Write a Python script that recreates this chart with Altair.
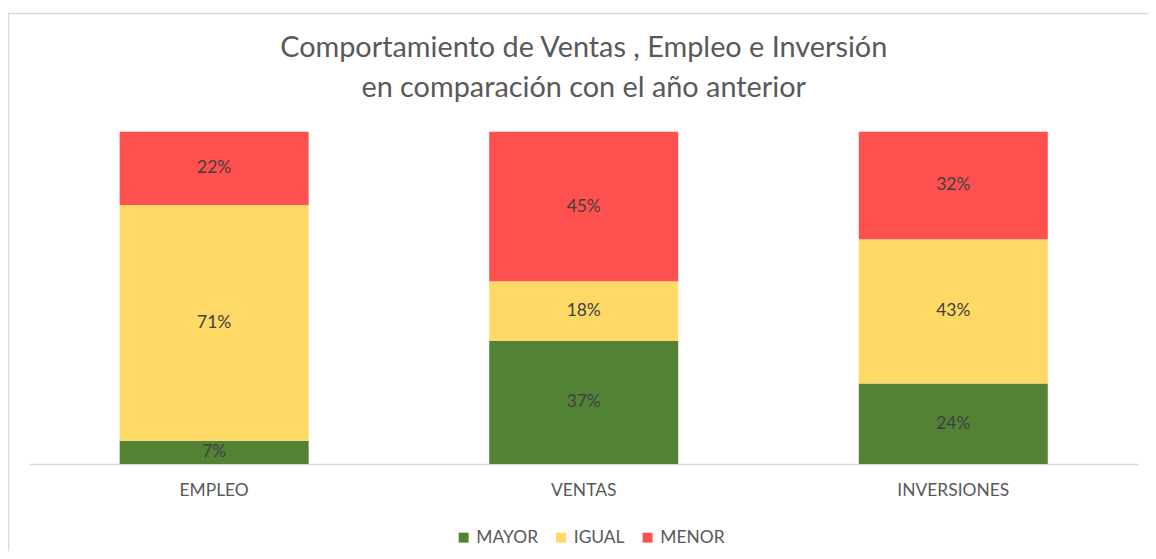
import altair as alt
import pandas as pd

categories = ["EMPLEO", "VENTAS", "INVERSIONES"]
series = ["MAYOR", "IGUAL", "MENOR"]
mayor = [7, 37, 24]
igual = [71, 18, 43]
menor = [22, 45, 32]
colors = ["#548235", "#FFD966", "#FF5050"]
title_lines = ["Comportamiento de Ventas , Empleo e Inversión", "en comparación con el año anterior"]

rows = []
for i, c in enumerate(categories):
    for j, (s, vals) in enumerate(zip(series, [mayor, igual, menor])):
        rows.append({"cat": c, "serie": s, "val": vals[i], "ord": j})
df = pd.DataFrame(rows)

FONT = "Lato"
W, H = 1115, 334

base = alt.Chart(df).transform_stack(
    stack="val", groupby=["cat"], sort=[alt.SortField("ord", order="ascending")],
    as_=["y0", "y1"], offset="normalize"
).transform_calculate(mid="(datum.y0 + datum.y1) / 2", lab="datum.val + '%'")

xenc = alt.X("cat:N", sort=categories, title=None,
             scale=alt.Scale(paddingInner=0.4886, paddingOuter=0.2443),
             axis=alt.Axis(labelAngle=0, ticks=False, domainColor="#d9d9d9", domainWidth=1.5,
                           labelFont=FONT, labelFontSize=17.5, labelColor="#595959", labelPadding=18))
yscale = alt.Scale(domain=[0, 1])

bars = base.mark_bar().encode(
    x=xenc,
    y=alt.Y("y0:Q", scale=yscale, axis=None),
    y2="y1:Q",
    color=alt.Color("serie:N", sort=series,
                    scale=alt.Scale(domain=series, range=colors),
                    legend=alt.Legend(title=None, orient="none", direction="horizontal",
                                      legendX=428, legendY=399, symbolType="square",
                                      symbolSize=100, symbolStrokeWidth=0, symbolOpacity=1,
                                      labelFont=FONT, labelFontSize=17.5, labelColor="#595959",
                                      columnPadding=14, labelOffset=4)),
)

texts = base.mark_text(font=FONT, fontSize=17.5, color="#404040").encode(
    x=alt.X("cat:N", sort=categories),
    y=alt.Y("mid:Q", scale=yscale),
    text="lab:N",
)

title = alt.Chart(pd.DataFrame({"t": [0]})).mark_text(
    font=FONT, fontSize=29, color="#595959", lineHeight=40, baseline="middle", align="center"
).encode(x=alt.value(W / 2), y=alt.value(-84), text=alt.value(title_lines))

frame = alt.Chart(pd.DataFrame({"a": [0]})).mark_rect(
    fill=None, stroke="#d9d9d9", strokeWidth=1.5
).encode(x=alt.value(-21), x2=alt.value(W + 60), y=alt.value(-119), y2=alt.value(H + 150))

chart = alt.layer(frame, bars, texts, title).properties(
    width=W, height=H,
    padding={"left": 21.5, "top": 123, "right": 10, "bottom": 86},
    autosize=alt.AutoSizeParams(type="none"),
).configure_view(stroke=None).configure_axis(grid=False)

chart.save("out.html", embed_options={"renderer": "svg", "actions": False})
